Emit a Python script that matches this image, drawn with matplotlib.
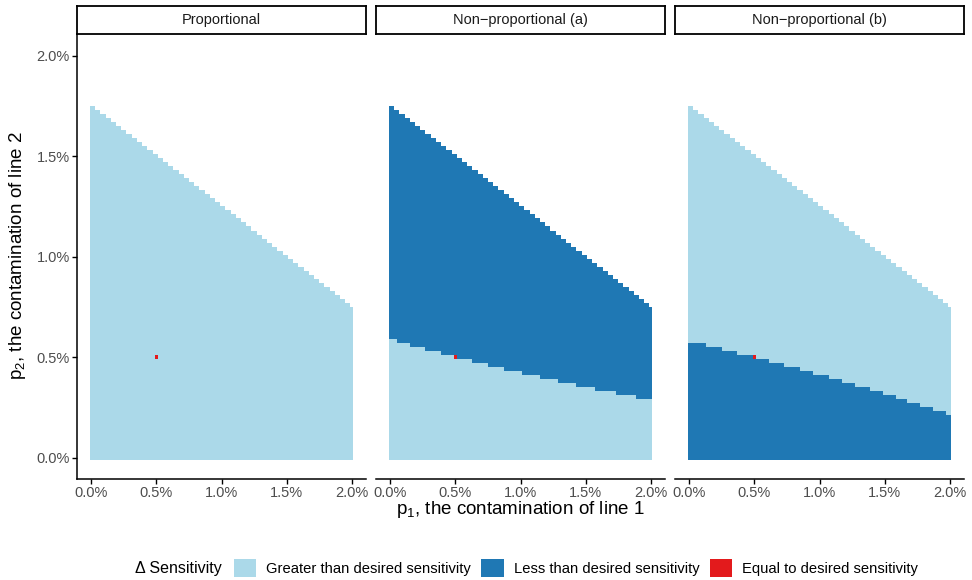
import numpy as np
import matplotlib
matplotlib.use("Agg")
import matplotlib.pyplot as plt
from matplotlib.colors import ListedColormap
from matplotlib.patches import Patch

plt.rcParams['font.family'] = ['Liberation Sans', 'DejaVu Sans']
plt.rcParams['mathtext.fontset'] = 'custom'
plt.rcParams['mathtext.rm'] = 'Liberation Sans'
plt.rcParams['mathtext.it'] = 'Liberation Sans:italic'

# grid of contamination levels (%), step 0.02
p1_values = np.round(np.arange(0, 2.0001, 0.02), 2)
p2_values = np.round(np.arange(0, 1.7401, 0.02), 2)

# feasible region: p1 + 2*p2 <= 3.5 (%)
budget = 3.5

# point where sensitivity equals the desired one
equal_point = (0.50, 0.50)

panel_titles = ["Proportional", "Non\u2212proportional (a)", "Non\u2212proportional (b)"]
legend_labels = ["Greater than desired sensitivity", "Less than desired sensitivity",
                 "Equal to desired sensitivity"]
colors = ["#abd9e9", "#1f78b4", "#e31a1c"]

# Non-proportional (a): light (greater) up to this p2 level, dark above
a_step_start = [0.00, 0.06, 0.16, 0.28, 0.40, 0.52, 0.64, 0.76, 0.88, 1.02, 1.16, 1.30,
                1.44, 1.58, 1.74, 1.90]
a_level = [0.58, 0.56, 0.54, 0.52, 0.50, 0.48, 0.46, 0.44, 0.42, 0.40, 0.38, 0.36,
           0.34, 0.32, 0.30, 0.28]

# Non-proportional (b): dark (less) up to this p2 level, light above
b_step_start = [0.00, 0.14, 0.26, 0.38, 0.50, 0.62, 0.74, 0.86, 0.96, 1.08, 1.18, 1.28,
                1.40, 1.50, 1.60, 1.68, 1.78, 1.88, 1.98]
b_level = [0.56, 0.54, 0.52, 0.50, 0.48, 0.46, 0.44, 0.42, 0.40, 0.38, 0.36, 0.34,
           0.32, 0.30, 0.28, 0.26, 0.24, 0.22, 0.20]


def step_level(starts, levels, p1):
    idx = np.searchsorted(np.array(starts), p1 + 1e-9, side="right") - 1
    return np.array(levels)[idx]


P1, P2 = np.meshgrid(p1_values, p2_values)
inside = P1 + 2 * P2 <= budget + 1e-9
is_equal = np.isclose(P1, equal_point[0]) & np.isclose(P2, equal_point[1])

grid_prop = np.zeros(P1.shape)

lev_a = step_level(a_step_start, a_level, P1)
grid_a = np.where(P2 <= lev_a + 1e-9, 0.0, 1.0)

lev_b = step_level(b_step_start, b_level, P1)
grid_b = np.where(P2 <= lev_b + 1e-9, 1.0, 0.0)

grids = []
for g in [grid_prop, grid_a, grid_b]:
    g = g.copy()
    g[is_equal] = 2
    g[~inside] = np.nan
    grids.append(g)

cmap = ListedColormap(colors)
x_edges = np.append(p1_values - 0.01, p1_values[-1] + 0.01)
y_edges = np.append(p2_values - 0.01, p2_values[-1] + 0.01)

W, H = 972, 580
fig = plt.figure(figsize=(9.72, 5.8), dpi=100)

lefts = [77, 376, 675]
pw = 289
top, bottom = 33.5, 479
ticks = [0, 0.5, 1.0, 1.5, 2.0]
tick_labels = ["0.0%", "0.5%", "1.0%", "1.5%", "2.0%"]

for i in range(3):
    ax = fig.add_axes([lefts[i] / W, 1 - bottom / H, pw / W, (bottom - top) / H])
    ax.pcolormesh(x_edges, y_edges, grids[i], cmap=cmap, vmin=-0.5, vmax=2.5,
                  edgecolors="none", antialiased=False)
    ax.set_xlim(-0.11, 2.11)
    ax.set_ylim(-0.106, 2.11)
    ax.set_xticks(ticks)
    ax.set_xticklabels(tick_labels)
    ax.set_yticks(ticks)
    ax.set_yticklabels(tick_labels)
    for s in ["top", "right"]:
        ax.spines[s].set_visible(False)
    ax.spines["bottom"].set_linewidth(1.1)
    ax.spines["left"].set_linewidth(1.1)
    ax.tick_params(axis="both", length=3.5, width=1.0, colors="black",
                   labelcolor="#4d4d4d", labelsize=10.5, pad=1.8)
    if i > 0:
        ax.spines["left"].set_visible(False)
        ax.tick_params(axis="y", left=False, labelleft=False)

    # facet strip
    sax = fig.add_axes([lefts[i] / W, 1 - top / H, pw / W, 27.5 / H])
    sax.set_xticks([])
    sax.set_yticks([])
    for s in sax.spines.values():
        s.set_linewidth(1.3)
    sax.text(0.5, 0.5, panel_titles[i], ha="center", va="center", fontsize=10.5,
             transform=sax.transAxes, color="#1a1a1a")

fig.text(18 / W, 1 - 256 / H, r"p$_\mathregular{2}$, the contamination of line 2",
         rotation=90, ha="center", va="center", fontsize=13.5)
fig.text(520 / W, 1 - 510 / H, r"p$_\mathregular{1}$, the contamination of line 1",
         ha="center", va="center", fontsize=13.5)

handles = [Patch(facecolor=c, edgecolor="none") for c in colors]
fig.legend(handles, legend_labels, ncol=3, loc="center left",
           bbox_to_anchor=(234 / W, 1 - 568 / H), frameon=False, fontsize=10.6,
           handlelength=1.5, handleheight=1.5, handletextpad=0.7, columnspacing=0.7,
           borderpad=0, borderaxespad=0)
fig.text(222 / W, 1 - 568 / H, "\u0394 Sensitivity", ha="right", va="center",
         fontsize=11.5)

fig.savefig("out.png", dpi=100)
